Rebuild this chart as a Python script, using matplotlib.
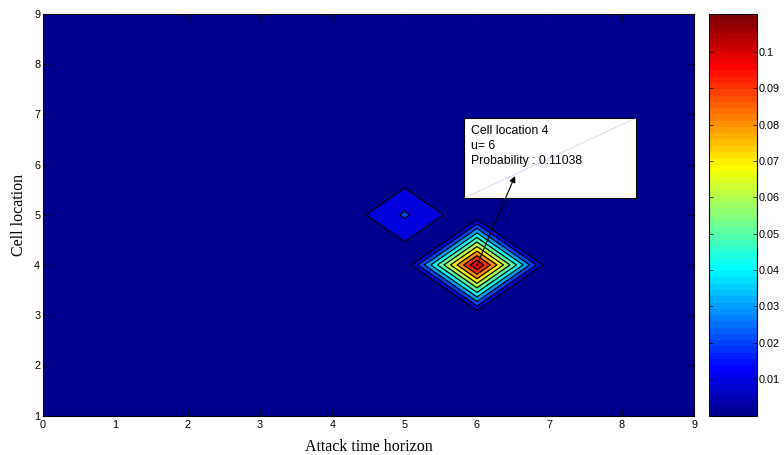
import numpy as np
import matplotlib
matplotlib.use("Agg")
import matplotlib.pyplot as plt
from matplotlib.colors import ListedColormap, Normalize
from matplotlib.patches import Rectangle
from matplotlib.tri import Triangulation
import matplotlib.cm as cm

# grid axes
attack_times = [0, 1, 2, 3, 4, 5, 6, 7, 8, 9]
cell_locations = [1, 2, 3, 4, 5, 6, 7, 8, 9]

# non-zero detection probabilities: (attack time, cell location, probability)
peak_times = [6, 5]
peak_cells = [4, 5]
peak_probs = [0.11038, 0.0215]

contour_levels = [0.00, 0.01, 0.02, 0.03, 0.04, 0.05, 0.06,
                  0.07, 0.08, 0.09, 0.10, 0.11]
cbar_ticks = [0.01, 0.02, 0.03, 0.04, 0.05, 0.06, 0.07, 0.08, 0.09, 0.10]
cbar_ticklabels = ["0.01", "0.02", "0.03", "0.04", "0.05",
                   "0.06", "0.07", "0.08", "0.09", "0.1"]

tip_lines = ["Cell location 4", "u= 6", "Probability : 0.11038"]


def classic_jet(m=64):
    """Classic 64-entry jet table."""
    n = int(np.ceil(m / 4))
    u = np.concatenate([np.arange(1, n + 1) / n, np.ones(n - 1),
                        np.arange(n, 0, -1) / n])
    g = int(np.ceil(n / 2)) - (1 if m % 4 == 1 else 0) + np.arange(1, len(u) + 1)
    J = np.zeros((m, 3))
    for ch, rows in enumerate((g + n, g, g - n)):
        for idx, val in zip(rows, u):
            if 1 <= idx <= m:
                J[idx - 1, ch] = val
    return J


jet = classic_jet(64)

X, Y = np.meshgrid(attack_times, cell_locations)
Z = np.zeros(X.shape)
for t, c, p in zip(peak_times, peak_cells, peak_probs):
    Z[cell_locations.index(c), attack_times.index(t)] = p

zmin, zmax = Z.min(), Z.max()

# split every grid cell into two triangles along the diagonal whose
# corners carry the smaller values, so separate peaks stay separate
ny, nx = Z.shape
zf = Z.ravel()
triangles = []
for j in range(ny - 1):
    for i in range(nx - 1):
        a, b = j * nx + i, j * nx + i + 1
        c, d = (j + 1) * nx + i + 1, (j + 1) * nx + i
        if zf[a] + zf[c] <= zf[b] + zf[d]:
            triangles += [[a, b, c], [a, c, d]]
        else:
            triangles += [[a, b, d], [b, c, d]]
tri = Triangulation(X.ravel(), Y.ravel(), triangles)


def level_color(v):
    k = int(np.floor((v - zmin) / (zmax - zmin) * len(jet)))
    return jet[min(max(k, 0), len(jet) - 1)]


fill_levels = contour_levels + [zmax]
fill_colors = [level_color(v) for v in contour_levels]

W, H = 784, 455
fig = plt.figure(figsize=(W / 100, H / 100), dpi=100)
ax = fig.add_axes([43 / W, 39.5 / H, 651 / W, 401.5 / H])
cax = fig.add_axes([709 / W, 39.5 / H, 48 / W, 401.5 / H])

tick_font = dict(family=["Liberation Sans", "DejaVu Sans"], size=7.8)
label_font = dict(family=["Liberation Serif", "DejaVu Serif"], size=11.5)

ax.tricontourf(tri, zf, levels=fill_levels, colors=fill_colors)
ax.tricontour(tri, zf, levels=contour_levels[1:], colors="k",
              linewidths=0.9)

ax.set_xlim(0, 9)
ax.set_ylim(1, 9)
ax.set_xticks(attack_times)
ax.set_yticks(cell_locations)
ax.set_xticklabels([str(v) for v in attack_times], **tick_font)
ax.set_yticklabels([str(v) for v in cell_locations], **tick_font)
ax.tick_params(direction="in", top=True, right=True, length=5, width=0.5,
               color="k")
ax.tick_params(axis="x", pad=3.5)
ax.tick_params(axis="y", pad=2)
for s in ax.spines.values():
    s.set_linewidth(0.8)
ax.set_xlabel("Attack time horizon", labelpad=6.5, **label_font)
ax.set_ylabel("Cell location", labelpad=5, **label_font)

# data tip
bx0, bx1, by0, by1 = 5.82, 8.20, 5.333, 6.93
ax.add_patch(Rectangle((bx0, by0), bx1 - bx0, by1 - by0, facecolor="white",
                       edgecolor="k", linewidth=0.8, zorder=5))
ax.plot([bx0, bx1], [by0, by1], color="#a8a8f0", linewidth=0.6,
        linestyle=(0, (1, 1)), zorder=6)
for i, line in enumerate(tip_lines):
    ax.text(bx0 + 0.1, 6.67 - i * 0.3, line, va="center", ha="left",
            family=["Liberation Sans", "DejaVu Sans"], size=8.8, zorder=7)
ax.annotate("", xy=(6.525, 5.77), xytext=(peak_times[0], peak_cells[0]),
            arrowprops=dict(arrowstyle="-|>", color="k", lw=0.8,
                            mutation_scale=9, shrinkA=0, shrinkB=0),
            zorder=8)

# colour bar
sm = cm.ScalarMappable(norm=Normalize(zmin, zmax), cmap=ListedColormap(jet))
cb = fig.colorbar(sm, cax=cax, ticks=cbar_ticks)
cb.outline.set_linewidth(0.8)
cax.set_yticklabels(cbar_ticklabels, **tick_font)
cax.yaxis.set_ticks_position("both")
cax.tick_params(direction="in", length=3, width=0.5, labelleft=False,
                labelright=True, pad=1.5)

fig.savefig("out.png", dpi=100)
